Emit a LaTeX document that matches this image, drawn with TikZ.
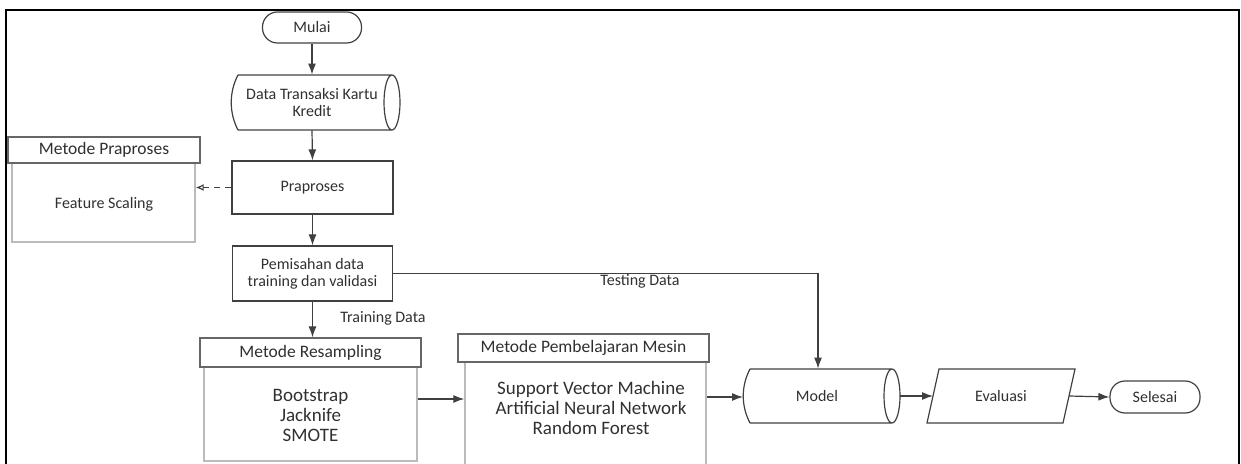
\documentclass[tikz,border=0pt]{standalone}
\usepackage{fontspec}
\setmainfont{Carlito}
\usetikzlibrary{arrows.meta,calc}
\definecolor{ln}{HTML}{404040}
\definecolor{tx}{HTML}{303030}
\definecolor{lightb}{HTML}{BBBBBB}
\begin{document}
\begin{tikzpicture}[x=0.5pt,y=-0.5pt,
  every node/.style={text=tx, inner sep=0pt, align=center},
  sm/.style={font=\fontsize{8}{8.5}\selectfont},
  hd/.style={font=\fontsize{8.75}{10}\selectfont},
  lst/.style={font=\fontsize{9.5}{10}\selectfont},
  term/.style={draw=ln, line width=0.6pt, rounded corners=7.5pt, sm},
  box/.style={draw=ln, line width=0.6pt, sm},
  hdr/.style={draw=ln!80, line width=0.6pt, hd},
  lane/.style={draw=lightb, line width=0.7pt},
  ghost/.style={draw=none, sm},
  arr/.style={draw=ln, line width=0.6pt, -{Latex[length=5.5pt,width=4pt]}},
  darr/.style={draw=ln, line width=0.6pt, dashed, dash pattern=on 3pt off 2.5pt, -{Latex[open,length=4pt,width=3.5pt]}},
  lbl/.style={sm}
]
\useasboundingbox (0,0) rectangle (1241,464);
\begin{scope}
\clip (0,0) rectangle (1241,464);
\draw[line width=1.1pt, black] (6,10) rectangle (1239,480);
\end{scope}

% Start
\node[term, minimum width=49.5pt, minimum height=15.5pt] (mulai) at (312,27.5) {Mulai};

% Data cylinder
\node[ghost, minimum width=84pt, minimum height=27.5pt] (data) at (312,102.5) {Data Transaksi Kartu\\Kredit};
\draw[ln, line width=0.6pt] (238,75) -- (392,75)
  (238,130) -- (392,130)
  (238,75) .. controls (229,92) and (229,113) .. (238,130)
  (392,102.5) ellipse [x radius=4pt, y radius=13.75pt];

% Praproses
\node[box, minimum width=80.5pt, minimum height=26.5pt] (prap) at (312.5,187.5) {Praproses};

% Pemisahan
\node[box, minimum width=80pt, minimum height=27.5pt] (pemis) at (312.5,273.5) {Pemisahan data\\training dan validasi};

% Metode Praproses lane
\node[lane, minimum width=91.5pt, minimum height=39.5pt] (pbody) at (103.5,202.5) {};
\node[hdr, minimum width=96pt, minimum height=13pt, fill=white] (phead) at (104,150) {Metode Praproses};
\node[sm] (fs) at (104,204) {Feature Scaling};

% Metode Resampling lane
\node[lane, minimum width=106.5pt, minimum height=47pt] (rbody) at (310.5,414) {};
\node[hdr, minimum width=110.5pt, minimum height=14.5pt, fill=white] (rhead) at (310.5,352.5) {Metode Resampling};
\node[lst] (rtxt) at (310.5,415) {Bootstrap\\Jacknife\\SMOTE};

% Metode Pembelajaran Mesin lane
\node[lane, minimum width=120.5pt, minimum height=52pt] (mbody) at (585.5,414) {};
\node[hdr, minimum width=125.5pt, minimum height=14pt, fill=white] (mhead) at (583.5,348) {Metode Pembelajaran Mesin};
\node[lst] (mtxt) at (591,408) {Support Vector Machine\\Artificial Neural Network\\Random Forest};

% Model cylinder
\node[ghost, minimum width=78.5pt, minimum height=27pt] (model) at (818,396) {};
\node[sm] (modeltxt) at (817,396) {Model};
\draw[ln, line width=0.6pt] (750,369) -- (892,369)
  (750,423) -- (892,423)
  (750,369) .. controls (741,386) and (741,406) .. (750,423)
  (892,396) ellipse [x radius=4pt, y radius=13.5pt];

% Evaluasi parallelogram
\coordinate (evL) at (933,396);
\coordinate (evR) at (1069,396);
\draw[ln, line width=0.6pt] (939,369) -- (1075,369) -- (1063,423) -- (927,423) -- cycle;
\node[sm] (eval) at (1001,396) {Evaluasi};

% Selesai
\node[term, minimum width=45pt, minimum height=16pt] (selesai) at (1155,397) {Selesai};

% Connectors
\draw[arr] (mulai.south) -- (mulai.south |- data.north);
\draw[arr] (data.south) -- (prap.north);
\draw[arr] (prap.south) -- (pemis.north);
\draw[darr] (prap.west) -- (pbody.east |- prap.west);
\draw[arr] (pemis.south) -- (pemis.south |- rhead.north);
\node[lbl] at (383,318) {Training Data};
\draw[arr] (pemis.east) -| (model.north);
\node[lbl] at (640,281) {Testing Data};
\draw[arr] (rbody.east |- 0,399) -- (mbody.west |- 0,399);
\draw[arr] (mbody.east |- 0,397) -- (750-7,397);
\draw[arr] (900,396) -- (evL);
\draw[arr] (evR) -- (selesai.west);
\end{tikzpicture}
\end{document}
